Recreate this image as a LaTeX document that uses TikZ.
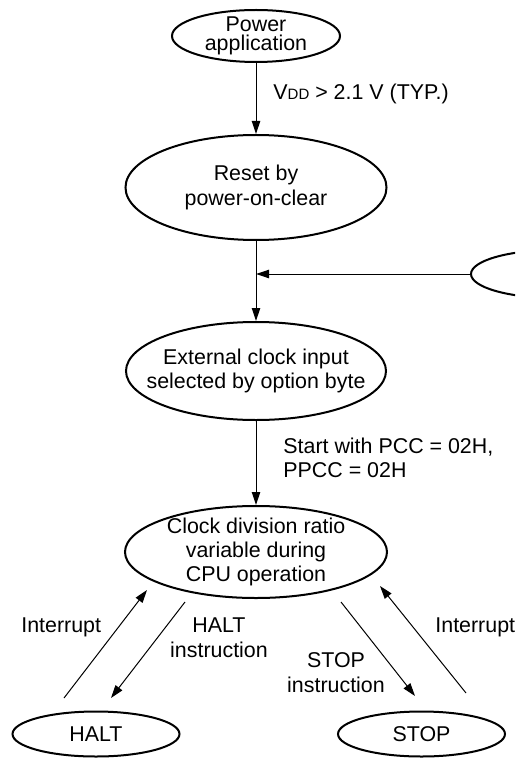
\documentclass[tikz,border=0pt]{standalone}
\usepackage{fontspec}
\setmainfont{Liberation Sans}
\usetikzlibrary{arrows.meta, shapes.geometric, positioning}
\tikzset{
  state/.style={ellipse, draw, line width=1pt, inner sep=0pt},
  stext/.style={align=center, font=\fontsize{10.7}{12.2}\selectfont, inner sep=0pt},
  note/.style={align=left, anchor=base west, font=\fontsize{10.7}{12}\selectfont, inner sep=0pt},
  flow/.style={-{Triangle[length=6.5pt, width=4.2pt]}, line width=0.5pt},
}

\begin{document}
\begin{tikzpicture}[x=0.5pt, y=-0.5pt]
    \useasboundingbox (0,0) rectangle (515,759);
    \clip (0,0) rectangle (515,759);
    % states
    \node[state, minimum width=84pt, minimum height=26pt,
      label={[stext, font=\fontsize{10.7}{9.5}\selectfont]center:Power\\application}] (pw) at (256,36) {};
    \node[state, minimum width=130.5pt, minimum height=52.5pt,
      label={[stext]center:Reset by\\power-on-clear}] (rs) at (256,187.5) {};
    \node[state, minimum width=84pt, minimum height=24pt] (ot) at (555,274) {};
    \node[state, minimum width=130pt, minimum height=49pt,
      label={[stext]center:External clock input\\selected by option byte}] (ec) at (256,371) {};
    \node[state, minimum width=131pt, minimum height=46pt,
      label={[stext]center:Clock division ratio\\variable during\\CPU operation}] (cd) at (256,552) {};
    \node[state, minimum width=83.5pt, minimum height=22.5pt,
      label={[stext]center:HALT}] (ht) at (96,734) {};
    \node[state, minimum width=83.5pt, minimum height=22.5pt,
      label={[stext]center:STOP}] (sp) at (421.5,734) {};
    % join point and free ends
    \coordinate (j) at (256,274);
    \coordinate (hA) at (64,698);   \coordinate (hB) at (147,590);
    \coordinate (hC) at (185,602);  \coordinate (hD) at (111,698);
    \coordinate (sA) at (341,602);  \coordinate (sB) at (415,696);
    \coordinate (sC) at (466,693);  \coordinate (sD) at (380,586);
    % connectors
    \draw[flow] (pw) -- (rs); \draw[flow] (rs) -- (ec); \draw[flow] (ot) -- (j); \draw[flow] (ec) -- (cd);
    \draw[flow] (hA) -- (hB); \draw[flow] (hC) -- (hD); \draw[flow] (sA) -- (sB); \draw[flow] (sC) -- (sD);
    % labels
    \node[note] (vl) at (273,100) {V{\fontsize{7.5}{8}\selectfont DD} > 2.1 V (TYP.)};
    \node[note] (pl) at (283,477) {Start with PCC = 02H,\\PPCC = 02H};
    \node[note] (il) at (21,632) {Interrupt};
    \node[note] (ir) at (435,632) {Interrupt};
    \node[stext, anchor=base] (hl) at (219,657) {HALT\\instruction};
    \node[stext, anchor=base] (sl) at (336,692) {STOP\\instruction};
\end{tikzpicture}
\end{document}
